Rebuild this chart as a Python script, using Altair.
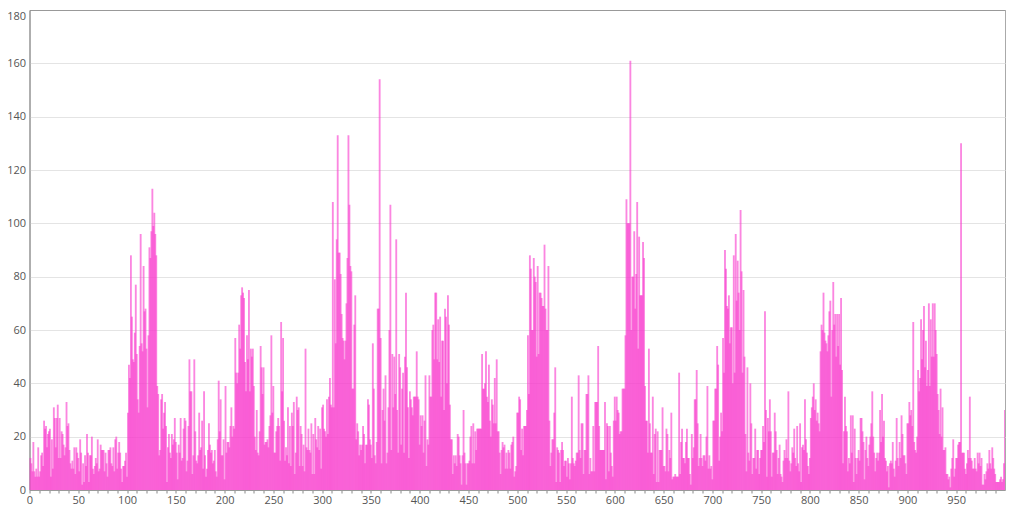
import altair as alt
import pandas as pd

values_000 = [12,10,7,18,7,5,8,5,16,5, 7,13,14,9,26,23,24,16,21,22, 23,5,19,8,31,27,16,27,32,12, 27,12,22,21,17,13,16,33,24,25,
 15,10,8,11,8,16,6,16,14,12, 7,19,14,2,10,3,13,9,21,14, 3,13,13,20,8,6,9,12,10,19, 7,8,17,15,15,15,7,14,10,5,
 15,15,16,10,9,16,7,19,20,8, 14,18,14,8,3,9,9,11,14,5]
values_100 = [29,47,42,88,65,49,48,59,77,51, 34,29,54,96,55,52,84,67,68,53, 31,58,91,87,97,113,99,104,96,88, 39,36,13,15,34,36,23,29,33,24,
 3,16,21,14,12,21,17,19,27,18, 14,4,17,14,27,11,12,23,27,26, 7,11,24,49,37,37,6,13,49,22, 11,10,13,29,15,16,26,8,37,13,
 5,8,15,25,17,14,15,10,11,15, 7,5,19,41,22,34,13,13,19,4]
values_200 = [39,14,18,18,16,24,31,20,24,23, 57,44,40,44,62,53,73,76,74,72, 48,37,58,49,75,37,53,50,53,39, 20,15,30,14,13,22,54,46,36,46,
 17,18,18,19,16,24,28,58,29,39, 14,14,22,24,27,24,11,63,37,57, 26,11,16,13,31,10,24,9,29,24, 33,6,14,35,30,31,9,24,21,9,
 17,7,53,16,15,23,15,14,25,6, 21,6,27,19,16,24,15,23,8,31]
values_300 = [32,23,22,20,34,21,35,42,32,31, 108,31,79,55,94,133,89,89,81,66, 57,56,49,56,70,87,133,107,84,82, 38,38,62,73,19,25,22,13,17,15,
 17,24,21,10,17,17,34,32,19,17, 12,55,38,13,10,18,68,68,154,57, 10,30,38,26,43,10,14,31,60,107, 15,51,31,50,36,94,30,14,51,46,
 17,38,44,14,50,74,46,31,12,37, 34,31,28,35,35,35,52,35,34,17]
values_400 = [28,24,28,14,26,43,9,19,17,43, 35,35,60,62,49,74,74,49,64,48, 65,35,56,56,30,68,65,40,73,62, 32,19,19,6,13,10,13,9,21,20,
 13,10,2,13,30,14,10,2,10,10, 11,20,24,10,25,10,22,15,23,23, 23,23,23,51,38,38,40,52,35,33, 47,26,20,34,32,25,42,25,49,22,
 22,14,6,15,18,16,17,8,14,8, 15,14,8,17,18,20,5,7,9,29]
values_500 = [29,35,34,15,23,13,24,24,24,30, 58,36,88,83,60,60,87,80,78,50, 84,51,74,74,72,69,69,92,68,60, 60,84,26,9,14,19,19,29,46,3,
 16,15,14,3,15,18,15,9,11,11, 5,12,10,4,10,35,12,10,9,11, 14,14,43,15,12,25,25,6,15,15, 36,36,43,6,12,7,7,24,7,33,
 33,33,54,24,15,15,15,15,15,33, 4,25,24,7,24,14,9,5,26,35]
values_600 = [26,35,30,29,21,22,22,38,38,38, 58,109,100,100,100,161,60,80,80,97, 68,81,108,53,95,73,73,73,93,87, 39,26,26,14,53,25,14,14,35,6,
 21,23,3,22,3,15,15,15,31,9, 9,7,23,21,7,15,12,29,4,5, 5,6,5,5,5,44,6,18,23,12, 12,10,18,23,12,12,6,2,21,12,
 16,34,34,45,25,9,12,21,12,9, 13,13,11,20,39,8,13,8,9,4]
values_700 = [26,26,38,38,54,47,11,20,29,22, 57,44,90,83,69,68,73,55,61,61, 40,88,44,96,71,86,74,60,105,82, 44,75,50,21,7,46,14,11,40,25,
 6,12,12,23,8,15,15,6,12,15, 15,24,18,67,30,5,27,22,34,22, 5,14,14,29,22,15,6,12,17,6, 5,3,11,15,12,19,12,37,11,7,
 10,16,14,23,12,9,24,10,7,25, 3,16,17,15,34,19,14,9,6,12]
values_800 = [27,31,35,40,30,34,26,29,25,22, 52,62,60,74,59,56,55,52,58,67, 71,35,60,78,62,66,50,66,54,66, 47,72,45,10,22,35,24,22,7,12,
 10,28,14,28,3,23,12,6,12,15, 11,27,27,22,18,4,15,20,12,9, 17,20,25,37,20,14,7,12,14,11, 14,30,18,36,20,26,12,11,7,9,
 1,10,11,10,18,8,5,11,27,12, 9,18,12,28,21,13,13,10,6,25]
values_900 = [25,33,28,30,24,63,18,15,14,20, 45,37,42,64,49,60,69,46,56,39, 45,70,39,64,50,70,50,70,60,51, 36,30,21,38,20,31,15,15,16,6,
 6,4,5,1,8,12,19,5,8,12, 12,17,18,18,130,14,14,14,8,6, 10,15,12,35,12,11,8,8,12,8, 7,14,10,14,9,12,2,2,6,4,
 7,10,8,15,10,8,16,12,8,6, 3,3,3,3,4,5,3,4,10,30]

series = (values_000 + values_100 + values_200 + values_300 + values_400 +
          values_500 + values_600 + values_700 + values_800 + values_900)
x_ticks = list(range(0, 1000, 10))
y_ticks = list(range(0, 181, 20))

df = pd.DataFrame({"i": range(len(series)), "v": series})
df["j"] = df["i"] + 1.9
df["b"] = 0

chart = (
    alt.Chart(df)
    .mark_rect(color="#f83ccd", opacity=0.62)
    .encode(
        x=alt.X("i:Q", scale=alt.Scale(domain=[0, 1000], nice=False, zero=False, clamp=True),
                axis=alt.Axis(values=x_ticks, title=None, grid=False, labelFlush=False,
                              labelExpr="datum.value % 50 === 0 ? datum.label : ''",
                              labelFont="Open Sans", labelFontSize=11, labelColor="#555555",
                              tickColor="#888888", tickSize=3, labelPadding=1,
                              domainColor="#999999", labelOverlap=False, format="d")),
        x2="j:Q",
        y=alt.Y("v:Q", scale=alt.Scale(domain=[0, 180], nice=False),
                axis=alt.Axis(values=y_ticks, title=None, grid=True,
                              gridColor={"condition": {"test": "datum.value === 180", "value": "#999999"},
                                         "value": "#e4e4e4"},
                              gridWidth=1, labelFont="Open Sans", labelFontSize=11,
                              labelBaseline={"condition": {"test": "datum.value === 180", "value": "top"},
                                             "value": "middle"},
                              labelColor="#555555", ticks=False, labelPadding=4,
                              domainColor="#888888", format="d")),
        y2="b:Q",
    )
    .properties(width=975.5, height=480,
                autosize=alt.AutoSizeParams(type="none"),
                padding={"left": 21.5, "top": 2, "right": 10, "bottom": 18})
    .configure_view(stroke="#aaaaaa", strokeWidth=1)
)

chart.save("out.html", embed_options={"renderer": "svg", "actions": False})
